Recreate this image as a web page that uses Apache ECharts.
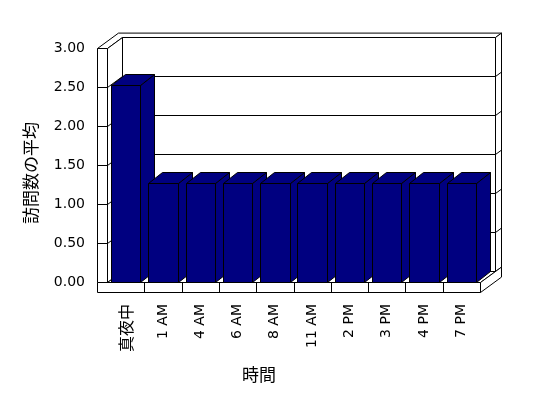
<!DOCTYPE html>
<html>
<head>
<meta charset="utf-8">
<script src="https://cdn.jsdelivr.net/npm/echarts@6/dist/echarts.min.js"></script>
<style>
html,body{margin:0;padding:0;background:#fff;}
#chart{width:548px;height:398px;}
</style>
</head>
<body>
<div id="chart"></div>
<script>
// ---- data ----
const categories = ['真夜中', '1 AM', '4 AM', '6 AM', '8 AM', '11 AM', '2 PM', '3 PM', '4 PM', '7 PM'];
const visits = [2.53, 1.27, 1.27, 1.27, 1.27, 1.27, 1.27, 1.27, 1.27, 1.27];
const yTicks = [0, 0.5, 1, 1.5, 2, 2.5, 3];
const xTitle = '時間';
const yTitle = '訪問数の平均';

// ---- 3D look parameters ----
const DX = 15, DY = -11;     // depth of plot box
const TX = 6, TY = -4.4;     // back wall thickness
const W = 10;                // left wall front thickness
const FH = 10;               // floor front height
const BX = 14, BY = -11;     // bar depth
const BAR_RATIO = 0.79;
const NAVY = '#000080';

const chart = echarts.init(document.getElementById('chart'), null, {renderer: 'canvas'});
const P = v => Math.round(v) + 0.5;
const lineStyle = {stroke: '#000', lineWidth: 1, fill: null};
const faceStyle = {stroke: '#000', lineWidth: 1, fill: '#fff'};

function poly(points, style) {
  return {type: 'polygon', shape: {points: points}, style: style};
}
function line(x1, y1, x2, y2) {
  return {type: 'line', shape: {x1: x1, y1: y1, x2: x2, y2: y2}, style: lineStyle};
}

function frameRender(params, api) {
  const cs = params.coordSys;
  const L = P(cs.x), R = P(cs.x + cs.width);
  const yf = v => P(api.coord([0, v])[1]);
  const y0 = yf(yTicks[0]), y3 = yf(yTicks[yTicks.length - 1]);
  const ch = [];
  // top surface of walls
  ch.push(poly([[L - W, y3], [L - W + DX + TX, y3 + DY + TY], [R + DX + TX, y3 + DY + TY],
                [R + DX, y3 + DY], [L + DX, y3 + DY], [L, y3]], faceStyle));
  // back wall front face
  ch.push(poly([[L + DX, y3 + DY], [R + DX, y3 + DY], [R + DX, y0 + DY], [L + DX, y0 + DY]], faceStyle));
  // back wall right face
  ch.push(poly([[R + DX, y3 + DY], [R + DX + TX, y3 + DY + TY], [R + DX + TX, y0 + DY + TY], [R + DX, y0 + DY]], faceStyle));
  // left wall inner face
  ch.push(poly([[L, y3], [L + DX, y3 + DY], [L + DX, y0 + DY], [L, y0]], faceStyle));
  // left wall front face
  ch.push(poly([[L - W, y3], [L, y3], [L, y0], [L - W, y0]], faceStyle));
  // floor top
  ch.push(poly([[L, y0], [R, y0], [R + DX, y0 + DY], [L + DX, y0 + DY]], faceStyle));
  // floor right face
  ch.push(poly([[R, y0], [R + DX + TX, y0 + DY + TY], [R + DX + TX, y0 + FH + DY + TY], [R, y0 + FH]], faceStyle));
  // floor front face
  ch.push(poly([[L - W, y0], [R, y0], [R, y0 + FH], [L - W, y0 + FH]], faceStyle));
  // grid lines
  for (let i = 1; i < yTicks.length - 1; i++) {
    const y = yf(yTicks[i]);
    ch.push(line(L - W, y, L, y));
    ch.push(line(L, y, L + DX, y + DY));
    ch.push(line(L + DX, y + DY, R + DX, y + DY));
    ch.push(line(R + DX, y + DY, R + DX + TX, y + DY + TY));
  }
  // floor front ticks at category boundaries
  const cw = cs.width / categories.length;
  for (let k = 1; k < categories.length; k++) {
    const x = P(cs.x + k * cw);
    ch.push(line(x, y0, x, y0 + FH));
  }
  return {type: 'group', children: ch};
}

function barRender(params, api) {
  const c = api.coord([api.value(0), api.value(1)]);
  const b = api.coord([api.value(0), 0]);
  const bw = api.size([1, 0])[0] * BAR_RATIO;
  const x0 = P(c[0] - bw / 2), x1 = P(c[0] + bw / 2);
  const yt = P(c[1]), yb = P(b[1]);
  const st = {fill: NAVY, stroke: '#000', lineWidth: 1};
  return {
    type: 'group',
    children: [
      poly([[x1, yt], [x1 + BX, yt + BY], [x1 + BX, yb + BY], [x1, yb]], st),
      poly([[x0, yt], [x1, yt], [x1 + BX, yt + BY], [x0 + BX, yt + BY]], st),
      poly([[x0, yt], [x1, yt], [x1, yb], [x0, yb]], st)
    ]
  };
}

const option = {
  backgroundColor: '#fff',
  animation: false,
  grid: {left: 107, top: 48, right: 68, bottom: 116},
  xAxis: {
    type: 'category',
    data: categories,
    boundaryGap: true,
    axisLine: {show: false},
    axisTick: {show: false},
    splitLine: {show: false},
    axisLabel: {
      rotate: 90,
      margin: 22,
      interval: 0,
      color: '#000',
      fontFamily: 'DejaVu Sans',
      fontSize: 14,
      formatter: function (v) {
        return /[\u3000-\u9fff]/.test(v) ? '{c|' + v + '}' : v;
      },
      rich: {c: {fontFamily: 'Noto Sans CJK JP', fontSize: 16, color: '#000'}}
    }
  },
  yAxis: {
    type: 'value',
    min: yTicks[0],
    max: yTicks[yTicks.length - 1],
    interval: yTicks[1] - yTicks[0],
    axisLine: {show: false},
    axisTick: {show: false},
    splitLine: {show: false},
    axisLabel: {
      margin: 22,
      color: '#000',
      fontFamily: 'DejaVu Sans',
      fontSize: 14,
      formatter: v => v.toFixed(2)
    }
  },
  graphic: [
    {type: 'text', x: 259, y: 375, style: {text: xTitle, fontFamily: 'Noto Sans CJK JP', fontSize: 17, fill: '#000', textAlign: 'center', textVerticalAlign: 'middle'}},
    {type: 'text', x: 31, y: 173, rotation: Math.PI / 2, style: {text: yTitle, fontFamily: 'Noto Sans CJK JP', fontSize: 17, fill: '#000', textAlign: 'center', textVerticalAlign: 'middle'}}
  ],
  series: [
    {type: 'custom', name: 'frame', z: 1, silent: true, renderItem: frameRender, data: [[0, 0]], encode: {x: 0, y: 1}},
    {type: 'custom', name: '訪問数の平均', z: 2, silent: true, renderItem: barRender,
     data: visits.map((v, i) => [i, v]), encode: {x: 0, y: 1}}
  ]
};
chart.setOption(option);
</script>
</body>
</html>
